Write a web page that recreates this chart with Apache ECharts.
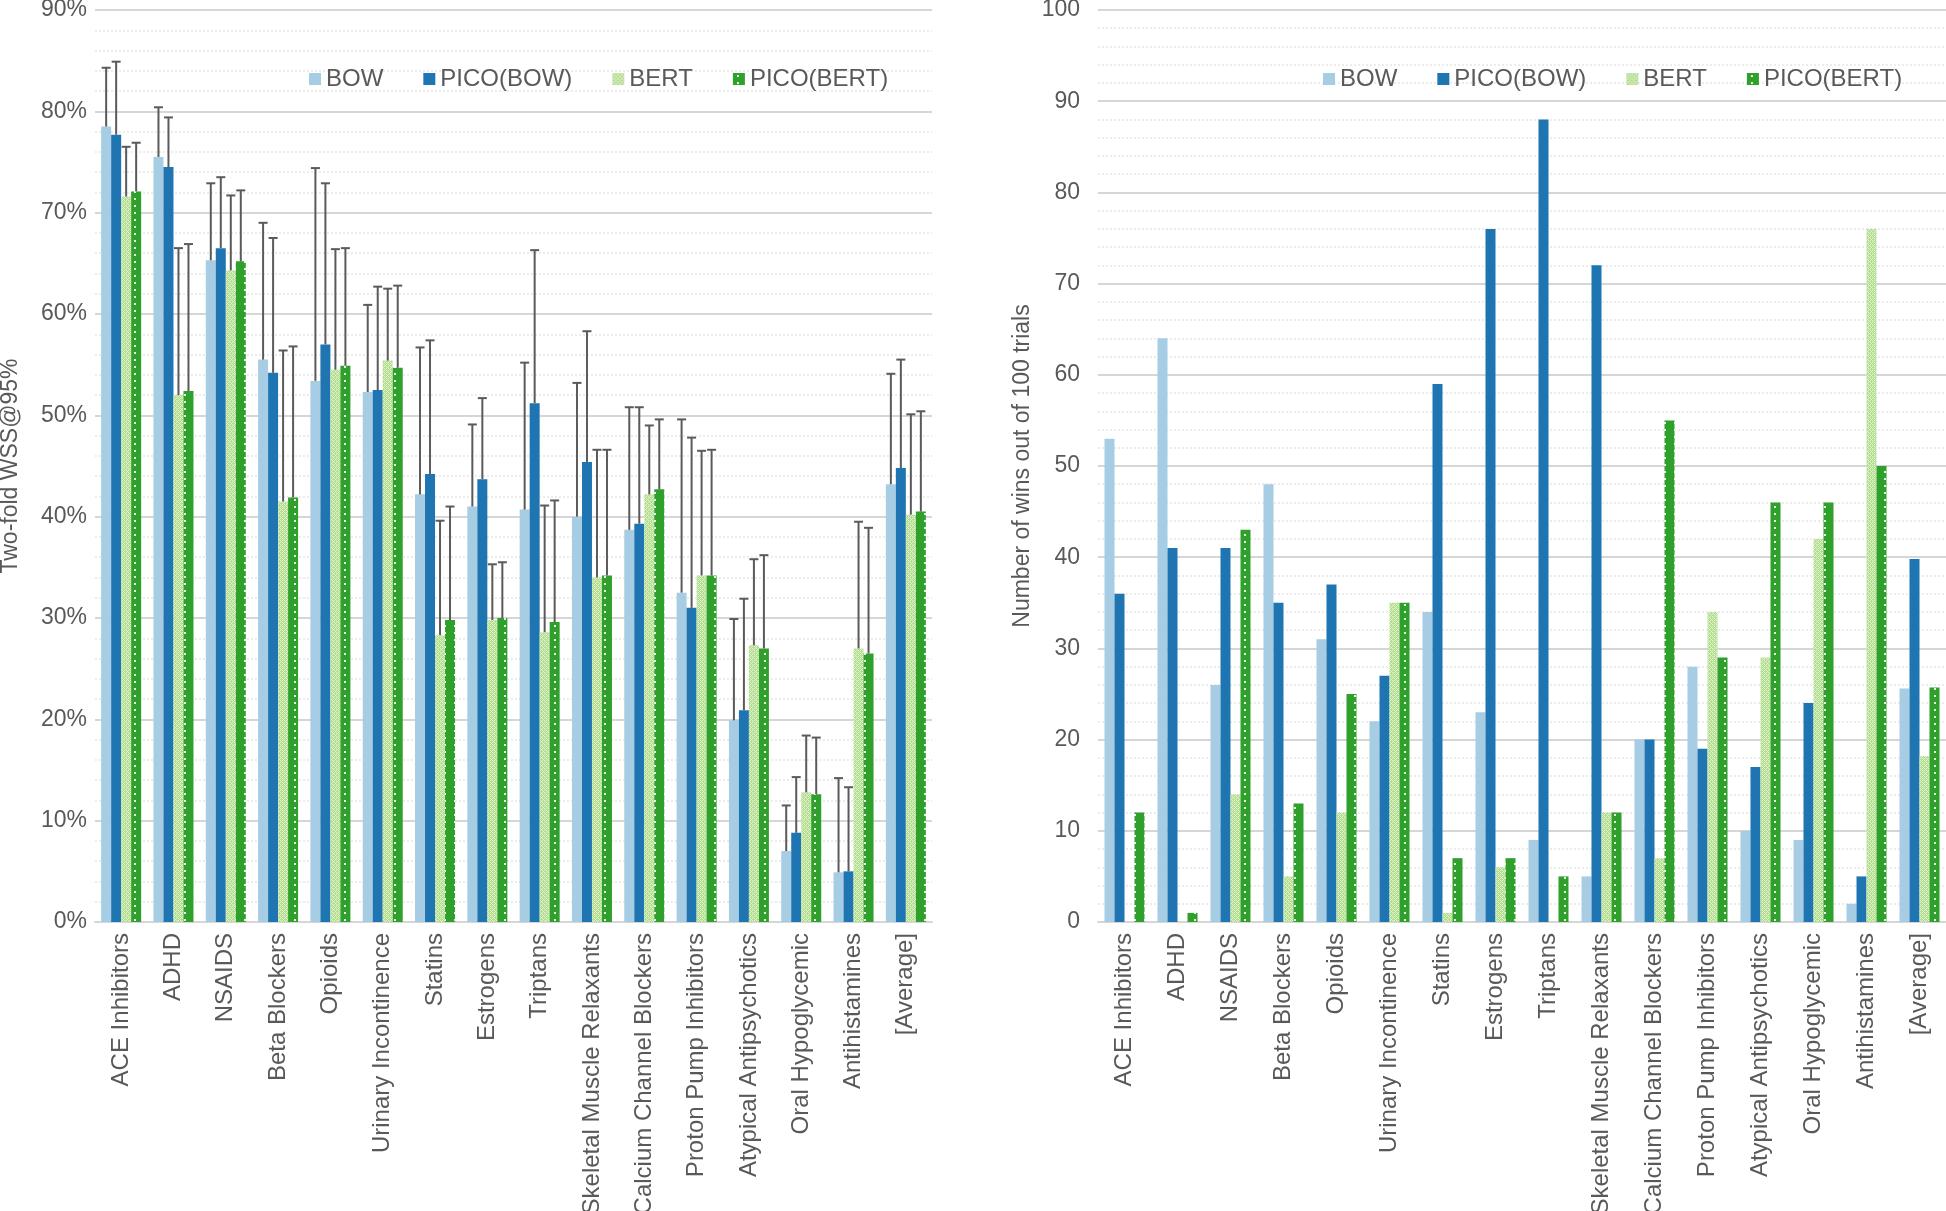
<!DOCTYPE html>
<html>
<head>
<meta charset="utf-8">
<script src="https://cdn.jsdelivr.net/npm/echarts@6/dist/echarts.min.js"></script>
<style>
  html, body { margin: 0; padding: 0; background: #ffffff; }
  #chart { width: 1946px; height: 1211px; }
</style>
</head>
<body>
<div id="chart"></div>
<script>
// ---------------- DATA ----------------
const categories = ['ACE Inhibitors', 'ADHD', 'NSAIDS', 'Beta Blockers', 'Opioids', 'Urinary Incontinence',
  'Statins', 'Estrogens', 'Triptans', 'Skeletal Muscle Relaxants', 'Calcium Channel Blockers',
  'Proton Pump Inhibitors', 'Atypical Antipsychotics', 'Oral Hypoglycemic', 'Antihistamines', '[Average]'];
const seriesNames = ['BOW', 'PICO(BOW)', 'BERT', 'PICO(BERT)'];

// Left panel: Two-fold WSS@95% (%)
const wssBow      = [78.5, 75.5, 65.3, 55.5, 53.4, 52.3, 42.2, 41.0, 40.7, 40.0, 38.7, 32.5, 19.9, 7.0, 4.9, 43.2];
const wssPicoBow  = [77.7, 74.5, 66.5, 54.2, 57.0, 52.5, 44.2, 43.7, 51.2, 45.4, 39.3, 31.0, 20.9, 8.8, 5.0, 44.8];
const wssBert     = [71.6, 52.0, 64.3, 41.5, 54.5, 55.4, 28.3, 29.8, 28.6, 34.0, 42.2, 34.2, 27.3, 12.8, 27.0, 40.2];
const wssPicoBert = [72.1, 52.4, 65.2, 41.9, 54.9, 54.7, 29.8, 30.0, 29.6, 34.2, 42.7, 34.2, 27.0, 12.6, 26.5, 40.5];

// Left panel: upper error (standard deviation) for each bar (%)
const errBow      = [5.8, 4.9, 7.6, 13.5, 21.0, 8.6, 14.5, 8.1, 14.5, 13.2, 12.1, 17.1, 10.0, 4.5, 9.3, 10.9];
const errPicoBow  = [7.2, 4.9, 7.0, 13.3, 15.9, 10.2, 13.2, 8.0, 15.1, 12.9, 11.5, 16.8, 11.0, 5.5, 8.3, 10.7];
const errBert     = [4.9, 14.5, 7.4, 14.9, 11.9, 7.1, 11.3, 5.5, 12.5, 12.6, 6.8, 12.3, 8.5, 5.6, 12.5, 9.9];
const errPicoBert = [4.8, 14.5, 7.0, 14.9, 11.6, 8.1, 11.2, 5.5, 12.0, 12.4, 6.9, 12.4, 9.2, 5.6, 12.4, 9.9];

// Right panel: number of wins out of 100 trials
const winsBow      = [53, 64, 26, 48, 31, 22, 34, 23, 9, 5, 20, 28, 10, 9, 2, 25.6];
const winsPicoBow  = [36, 41, 41, 35, 37, 27, 59, 76, 88, 72, 20, 19, 17, 24, 5, 39.8];
const winsBert     = [0, 0, 14, 5, 12, 35, 1, 6, 0, 12, 7, 34, 29, 42, 76, 18.2];
const winsPicoBert = [12, 1, 43, 13, 25, 35, 7, 7, 5, 12, 55, 29, 46, 46, 50, 25.7];

// Tick settings
const leftTicks = { min: 0, max: 90, interval: 10 };
const rightTicks = { min: 0, max: 100, interval: 10 };

// ---------------- STYLE ----------------
const FONT = "'Liberation Sans', Arial, Helvetica, sans-serif";
const TXT = '#595959';
const BAR_W = 10;

function makeBertPattern() {
  const c = document.createElement('canvas');
  c.width = 4; c.height = 4;
  const g = c.getContext('2d');
  g.fillStyle = '#b4de8f'; g.fillRect(0, 0, 4, 4);
  g.fillStyle = '#dff1cd';
  g.fillRect(0, 0, 1, 1); g.fillRect(2, 0, 1, 1); g.fillRect(0, 2, 1, 1); g.fillRect(2, 2, 1, 1);
  g.fillRect(1, 1, 1, 1); g.fillRect(3, 3, 1, 1);
  return { image: c, repeat: 'repeat' };
}
function makePicoBertPattern() {
  const c = document.createElement('canvas');
  c.width = 10; c.height = 7;
  const g = c.getContext('2d');
  g.fillStyle = '#2fa02b'; g.fillRect(0, 0, 10, 7);
  g.fillStyle = '#e8f5e4';
  g.fillRect(4, 2, 2, 2);
  return { image: c, repeat: 'repeat' };
}
const colBow = '#a6cde3';
const colPicoBow = '#1f74b2';
const colBert = makeBertPattern();
const colPicoBert = makePicoBertPattern();
const colors = [colBow, colPicoBow, colBert, colPicoBert];

function yAxis(gridIndex, ticks, fmt, name, nameGap, margin) {
  return {
    type: 'value', gridIndex, min: ticks.min, max: ticks.max, interval: ticks.interval,
    name, nameLocation: 'middle', nameGap, nameRotate: 90,
    nameTextStyle: { fontFamily: FONT, fontSize: 23, color: TXT },
    axisLine: { show: false }, axisTick: { show: false },
    axisLabel: { formatter: fmt, fontFamily: FONT, fontSize: 23, color: TXT, margin },
    splitLine: { show: true, lineStyle: { color: '#d6d6d6', width: 2 } },
    minorTick: { show: false, splitNumber: 5 },
    minorSplitLine: { show: true, lineStyle: { color: '#ececec', width: 2, type: 'dotted' } }
  };
}
function xAxis(gridIndex) {
  return {
    type: 'category', gridIndex, data: categories,
    axisLine: { show: true, lineStyle: { color: '#d6d6d6', width: 2 } },
    axisTick: { show: false },
    axisLabel: { interval: 0, rotate: 90, fontFamily: FONT, fontSize: 24, color: TXT, margin: 11 }
  };
}
function bars(idx, name, data) {
  return {
    type: 'bar', name, data, xAxisIndex: idx, yAxisIndex: idx,
    barWidth: BAR_W, barGap: '0%',
    itemStyle: { color: colors[seriesNames.indexOf(name)] },
    emphasis: { disabled: true }, animation: false
  };
}

// error bar items from data arrays
const leftVals = [wssBow, wssPicoBow, wssBert, wssPicoBert];
const leftErrs = [errBow, errPicoBow, errBert, errPicoBert];
const errData = [];
leftVals.forEach((vals, k) => {
  vals.forEach((v, i) => errData.push([i, v, v + leftErrs[k][i], k]));
});

function renderErr(params, api) {
  const c = api.value(0), v = api.value(1), t = api.value(2), k = api.value(3);
  const p0 = api.coord([c, v]);
  const p1 = api.coord([c, t]);
  const x = p0[0] + (k - 1.5) * BAR_W;
  const st = { stroke: '#5a5a5a', lineWidth: 2, fill: null };
  return {
    type: 'group',
    children: [
      { type: 'line', shape: { x1: x, y1: p0[1], x2: x, y2: p1[1] }, style: st },
      { type: 'line', shape: { x1: x - 4.5, y1: p1[1], x2: x + 4.5, y2: p1[1] }, style: st }
    ]
  };
}

function legend(left) {
  return {
    data: seriesNames, left, top: 62, itemGap: 40, itemWidth: 12, itemHeight: 12,
    icon: 'rect', selectedMode: false,
    textStyle: { fontFamily: FONT, fontSize: 24, color: TXT, padding: [0, 0, 0, 0] },
    itemStyle: { borderWidth: 0 }
  };
}

const option = {
  animation: false,
  backgroundColor: '#ffffff',
  textStyle: { fontFamily: FONT },
  legend: [legend(304), legend(1318)],
  grid: [
    { left: 95, top: 10, width: 837, height: 912, containLabel: false, outerBoundsMode: 'none' },
    { left: 1098, top: 10, width: 848, height: 912, containLabel: false, outerBoundsMode: 'none' }
  ],
  xAxis: [xAxis(0), xAxis(1)],
  yAxis: [
    yAxis(0, leftTicks, '{value}%', 'Two-fold WSS@95%', 73, 8),
    yAxis(1, rightTicks, '{value}', 'Number of wins out of 100 trials', 64, 18)
  ],
  series: [
    bars(0, 'BOW', wssBow), bars(0, 'PICO(BOW)', wssPicoBow), bars(0, 'BERT', wssBert), bars(0, 'PICO(BERT)', wssPicoBert),
    {
      type: 'custom', name: 'err', xAxisIndex: 0, yAxisIndex: 0, data: errData,
      renderItem: renderErr, z: 3, silent: true, encode: { x: 0, y: [1, 2] }
    },
    bars(1, 'BOW', winsBow), bars(1, 'PICO(BOW)', winsPicoBow), bars(1, 'BERT', winsBert), bars(1, 'PICO(BERT)', winsPicoBert)
  ]
};

const chart = echarts.init(document.getElementById('chart'), null, { renderer: 'canvas' });
chart.setOption(option);
</script>
</body>
</html>
